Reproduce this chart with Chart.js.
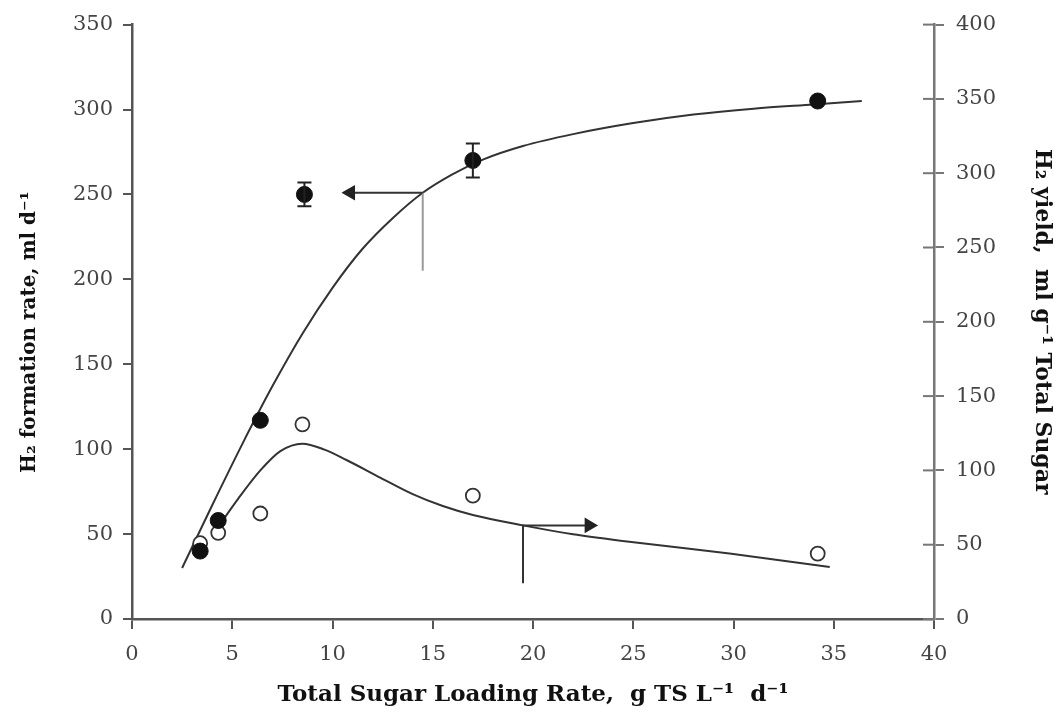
<!DOCTYPE html>
<html>
<head>
<meta charset="utf-8">
<script src="https://cdn.jsdelivr.net/npm/chart.js@4.4.1/dist/chart.umd.min.js"></script>
<style>
  html, body { margin: 0; padding: 0; background: #fff; }
</style>
</head>
<body>
<canvas id="chart" width="1063" height="718"></canvas>
<script>
// measured points (filled = H2 formation rate, left axis)
const rateX = [3.4, 4.3, 6.4, 8.6, 17.0, 34.2];
const rateVals = [40, 58, 117, 250, 270, 305];
const rateErr = [0, 0, 0, 7, 10, 0];
// open = H2 yield, right axis
const yieldX = [3.4, 4.3, 6.4, 8.5, 17.0, 34.2];
const yieldVals = [51, 58, 71, 131, 83, 44];

// fitted curves
const rateFitX = [2.5, 4.0, 5.5, 7.0, 8.5, 10.0, 11.5, 13.0, 14.5, 16.0, 17.5, 19.5, 22.0, 25.0, 28.0, 31.0, 34.0, 36.4];
const rateFitY = [30, 67, 103, 137, 168, 195, 218, 236, 251, 262, 270.5, 278.5, 285.5, 292, 297, 300.5, 303, 305];
const yieldFitX = [4.3, 5.3, 6.4, 7.4, 8.5, 9.6, 10.7, 12.4, 14.0, 15.5, 17.0, 19.5, 22.0, 24.8, 29.8, 34.8];
const yieldFitY = [62, 81, 100, 113, 118, 114, 107, 95, 84, 76, 70, 63, 57, 52, 44, 35];

// arrows pointing to the axis each curve belongs to
const leftArrowX = [14.5, 14.5, 10.9];
const leftArrowY = [205, 251, 251];
const rightArrowX = [19.5, 19.5, 22.8];
const rightArrowY = [24, 63, 63];

// tick labels
const xTicks = [0, 5, 10, 15, 20, 25, 30, 35, 40];
const leftTicks = [0, 50, 100, 150, 200, 250, 300, 350];
const rightTicks = [0, 50, 100, 150, 200, 250, 300, 350, 400];

function pts(xs, ys) {
  return xs.map((x, i) => ({ x: x, y: ys[i] }));
}

const tickFont = { family: "DejaVu Serif", size: 21 };
const axisColor = "#555";

const errorBars = {
  id: "errorBars",
  afterDatasetsDraw(chart) {
    const meta = chart.getDatasetMeta(0);
    const ys = chart.scales.y;
    const ctx = chart.ctx;
    ctx.save();
    ctx.strokeStyle = "#222";
    ctx.lineWidth = 2;
    meta.data.forEach((pt, i) => {
      const e = rateErr[i];
      if (!e) return;
      const top = ys.getPixelForValue(rateVals[i] + e);
      const bot = ys.getPixelForValue(rateVals[i] - e);
      ctx.beginPath();
      ctx.moveTo(pt.x, top); ctx.lineTo(pt.x, bot);
      ctx.moveTo(pt.x - 7, top); ctx.lineTo(pt.x + 7, top);
      ctx.moveTo(pt.x - 7, bot); ctx.lineTo(pt.x + 7, bot);
      ctx.stroke();
    });
    ctx.restore();
  }
};

// right axis ticks cross the axis line
const innerTicks = {
  id: "innerTicks",
  afterDraw(chart) {
    const s = chart.scales.y2;
    const ctx = chart.ctx;
    ctx.save();
    ctx.strokeStyle = "#777";
    ctx.lineWidth = 2;
    s.ticks.forEach((t) => {
      const py = s.getPixelForValue(t.value);
      ctx.beginPath();
      ctx.moveTo(s.left - 11, py);
      ctx.lineTo(s.left, py);
      ctx.stroke();
    });
    ctx.restore();
  }
};

new Chart(document.getElementById("chart"), {
  type: "scatter",
  data: {
    datasets: [
      {
        data: pts(rateX, rateVals),
        yAxisID: "y",
        pointStyle: "circle",
        pointRadius: 8,
        backgroundColor: "#111",
        borderColor: "#111",
        borderWidth: 1
      },
      {
        data: pts(yieldX, yieldVals),
        yAxisID: "y2",
        pointStyle: "circle",
        pointRadius: 7,
        backgroundColor: "#fff",
        borderColor: "#333",
        borderWidth: 1.8
      },
      {
        data: pts(leftArrowX, leftArrowY),
        yAxisID: "y",
        showLine: true,
        borderWidth: 2,
        borderColor: "#333",
        segment: { borderColor: (c) => (c.p0DataIndex === 0 ? "#999" : "#333") },
        pointStyle: "triangle",
        rotation: -90,
        pointRadius: [0, 0, 7],
        backgroundColor: "#222",
        pointBorderColor: "#222"
      },
      {
        data: pts(rightArrowX, rightArrowY),
        yAxisID: "y2",
        showLine: true,
        borderWidth: 2,
        borderColor: "#333",
        pointStyle: "triangle",
        rotation: 90,
        pointRadius: [0, 0, 7],
        backgroundColor: "#222",
        pointBorderColor: "#222"
      },
      {
        data: pts(rateFitX, rateFitY),
        yAxisID: "y",
        showLine: true,
        cubicInterpolationMode: "monotone",
        borderColor: "#333",
        borderWidth: 2,
        pointRadius: 0
      },
      {
        data: pts(yieldFitX, yieldFitY),
        yAxisID: "y2",
        showLine: true,
        cubicInterpolationMode: "monotone",
        borderColor: "#333",
        borderWidth: 2,
        pointRadius: 0
      }
    ]
  },
  options: {
    responsive: false,
    animation: false,
    layout: { padding: { top: 24, left: 0, right: 0, bottom: 0 } },
    plugins: { legend: { display: false }, tooltip: { enabled: false } },
    scales: {
      x: {
        type: "linear",
        min: 0,
        max: 40,
        afterBuildTicks: (s) => { s.ticks = xTicks.map((v) => ({ value: v })); },
        afterFit: (s) => { s.height = 99; },
        border: { color: axisColor, width: 2.5 },
        grid: { drawOnChartArea: false, color: axisColor, lineWidth: 2, tickLength: 10 },
        ticks: { font: tickFont, color: "#444", padding: 13 },
        title: {
          display: true,
          text: "Total Sugar Loading Rate,  g TS L\u207B\u00B9  d\u207B\u00B9",
          font: { family: "DejaVu Serif", size: 23, weight: "bold" },
          color: "#111",
          padding: { top: 0, bottom: 9 }
        }
      },
      y: {
        type: "linear",
        position: "left",
        min: 0,
        max: 350,
        afterBuildTicks: (s) => { s.ticks = leftTicks.map((v) => ({ value: v })); },
        afterFit: (s) => { s.width = 132; },
        border: { color: axisColor, width: 2.5 },
        grid: { drawOnChartArea: false, color: axisColor, lineWidth: 2, tickLength: 9 },
        ticks: { font: tickFont, color: "#444", padding: 10 },
        title: {
          display: true,
          text: "H\u2082 formation rate, ml d\u207B\u00B9   ",
          font: { family: "DejaVu Serif", size: 20, weight: "bold" },
          color: "#111",
          padding: { top: 18, bottom: 0 }
        }
      },
      y2: {
        type: "linear",
        position: "right",
        min: 0,
        max: 400,
        afterBuildTicks: (s) => { s.ticks = rightTicks.map((v) => ({ value: v })); },
        afterFit: (s) => { s.width = 129; },
        border: { color: "#777", width: 2.5 },
        grid: { drawOnChartArea: false, color: "#777", lineWidth: 2, tickLength: 10 },
        ticks: { font: tickFont, color: "#444", padding: 12 },
        title: {
          display: true,
          text: "H\u2082 yield,  ml g\u207B\u00B9 Total Sugar",
          font: { family: "DejaVu Serif", size: 22, weight: "bold" },
          color: "#111",
          padding: { top: 8, bottom: 0 }
        }
      }
    }
  },
  plugins: [errorBars, innerTicks]
});
</script>
</body>
</html>
